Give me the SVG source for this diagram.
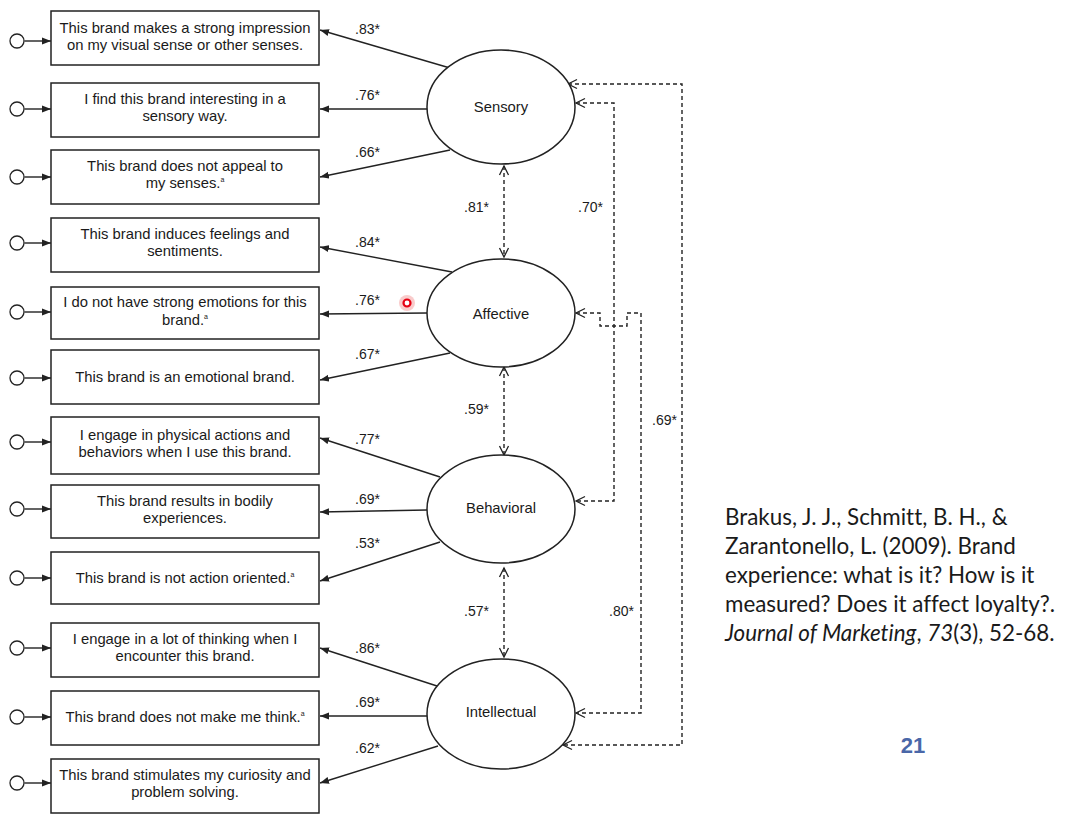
<svg xmlns="http://www.w3.org/2000/svg" width="1071" height="821" viewBox="0 0 1071 821">
<style>
.box{fill:#fff;stroke:#222;stroke-width:1.5}
.t{font-family:"Liberation Sans",Arial,sans-serif;font-size:14.8px;fill:#1a1a1a;text-anchor:middle}
.lb{font-family:"Liberation Sans",Arial,sans-serif;font-size:14px;fill:#1a1a1a}
.ell{fill:#fff;stroke:#222;stroke-width:1.5}
.sl{fill:none;stroke:#222;stroke-width:1.4;marker-end:url(#fa)}
.err{fill:#fff;stroke:#222;stroke-width:1.3}
.dl{fill:none;stroke:#222;stroke-width:1.4;stroke-dasharray:4 3;marker-start:url(#oa);marker-end:url(#oa)}
.cit{font-family:Lato,"Liberation Sans",sans-serif;font-size:22.4px;fill:#1a1a1a;font-variant-ligatures:none}
</style>
<defs>
<marker id="fa" markerUnits="userSpaceOnUse" markerWidth="10" markerHeight="8" refX="9" refY="4" orient="auto"><path d="M0,0.5 L9,4 L0,7.5 z" fill="#222"/></marker>
<marker id="oa" markerUnits="userSpaceOnUse" markerWidth="12" markerHeight="12" refX="10" refY="6" orient="auto-start-reverse"><path d="M1,1.5 L10,6 L1,10.5" fill="none" stroke="#222" stroke-width="1.3"/></marker>
</defs>
<rect width="1071" height="821" fill="#fff"/>

<g id="connectors">
<line class="sl" x1="24.5" y1="41" x2="51" y2="41"/>
<line class="sl" x1="24.5" y1="109" x2="51" y2="109"/>
<line class="sl" x1="24.5" y1="177" x2="51" y2="177"/>
<line class="sl" x1="24.5" y1="243" x2="51" y2="243"/>
<line class="sl" x1="24.5" y1="312" x2="51" y2="312"/>
<line class="sl" x1="24.5" y1="378" x2="51" y2="378"/>
<line class="sl" x1="24.5" y1="442" x2="51" y2="442"/>
<line class="sl" x1="24.5" y1="509" x2="51" y2="509"/>
<line class="sl" x1="24.5" y1="578" x2="51" y2="578"/>
<line class="sl" x1="24.5" y1="648" x2="51" y2="648"/>
<line class="sl" x1="24.5" y1="717" x2="51" y2="717"/>
<line class="sl" x1="24.5" y1="783" x2="51" y2="783"/>
<line class="sl" x1="450" y1="68" x2="320" y2="30"/>
<line class="sl" x1="427" y1="109" x2="320" y2="109"/>
<line class="sl" x1="450" y1="150" x2="320" y2="177"/>
<line class="sl" x1="452" y1="272" x2="320" y2="247"/>
<line class="sl" x1="427" y1="313" x2="320" y2="314"/>
<line class="sl" x1="450" y1="353" x2="320" y2="380"/>
<line class="sl" x1="440" y1="477" x2="320" y2="438"/>
<line class="sl" x1="427" y1="510" x2="320" y2="512"/>
<line class="sl" x1="440" y1="542" x2="320" y2="581"/>
<line class="sl" x1="437" y1="686" x2="320" y2="648"/>
<line class="sl" x1="427" y1="716" x2="320" y2="716"/>
<line class="sl" x1="438" y1="746" x2="320" y2="783"/>
<line class="dl" x1="504" y1="166" x2="504" y2="257"/>
<line class="dl" x1="504" y1="367" x2="504" y2="455"/>
<line class="dl" x1="504" y1="568" x2="504" y2="657"/>
<path class="dl" d="M568,84 H682 V745 H563"/>
<path class="dl" d="M576,103 H614 V501 H576"/>
<path class="dl" d="M576,313 H600 V326 H627 V313 H641 V713 H576"/>
<text class="lb" x="355" y="34">.83*</text>
<text class="lb" x="355" y="100">.76*</text>
<text class="lb" x="355" y="157">.66*</text>
<text class="lb" x="355" y="247">.84*</text>
<text class="lb" x="355" y="305">.76*</text>
<text class="lb" x="355" y="359">.67*</text>
<text class="lb" x="355" y="444">.77*</text>
<text class="lb" x="355" y="504">.69*</text>
<text class="lb" x="355" y="548">.53*</text>
<text class="lb" x="355" y="653">.86*</text>
<text class="lb" x="355" y="707">.69*</text>
<text class="lb" x="355" y="753">.62*</text>
<text class="lb" x="464" y="212">.81*</text>
<text class="lb" x="464" y="414">.59*</text>
<text class="lb" x="464" y="616">.57*</text>
<text class="lb" x="578" y="212">.70*</text>
<text class="lb" x="652" y="425">.69*</text>
<text class="lb" x="609" y="616">.80*</text>
</g>

<g id="errors">
<circle class="err" cx="17" cy="41" r="7"/>
<circle class="err" cx="17" cy="109" r="7"/>
<circle class="err" cx="17" cy="177" r="7"/>
<circle class="err" cx="17" cy="243" r="7"/>
<circle class="err" cx="17" cy="312" r="7"/>
<circle class="err" cx="17" cy="378" r="7"/>
<circle class="err" cx="17" cy="442" r="7"/>
<circle class="err" cx="17" cy="509" r="7"/>
<circle class="err" cx="17" cy="578" r="7"/>
<circle class="err" cx="17" cy="648" r="7"/>
<circle class="err" cx="17" cy="717" r="7"/>
<circle class="err" cx="17" cy="783" r="7"/>
</g>

<g id="item1"><rect class="box" x="51" y="11" width="268" height="54"/><text class="t" x="185" y="32.5">This brand makes a strong impression</text><text class="t" x="185" y="49.5">on my visual sense or other senses.</text></g>
<g id="item2"><rect class="box" x="51" y="83" width="268" height="54"/><text class="t" x="185" y="104">I find this brand interesting in a</text><text class="t" x="185" y="121">sensory way.</text></g>
<g id="item3"><rect class="box" x="51" y="150" width="268" height="54"/><text class="t" x="185" y="171">This brand does not appeal to</text><text class="t" x="185" y="188">my senses.<tspan font-size="7" dy="-6">a</tspan></text></g>
<g id="item4"><rect class="box" x="51" y="218" width="268" height="54"/><text class="t" x="185" y="239">This brand induces feelings and</text><text class="t" x="185" y="256">sentiments.</text></g>
<g id="item5"><rect class="box" x="51" y="287" width="268" height="52"/><text class="t" x="185" y="307">I do not have strong emotions for this</text><text class="t" x="185" y="324.5">brand.<tspan font-size="7" dy="-6">a</tspan></text></g>
<g id="item6"><rect class="box" x="51" y="350" width="268" height="54"/><text class="t" x="185" y="381.5">This brand is an emotional brand.</text></g>
<g id="item7"><rect class="box" x="51" y="417" width="268" height="57"/><text class="t" x="185" y="439.5">I engage in physical actions and</text><text class="t" x="185" y="456.5">behaviors when I use this brand.</text></g>
<g id="item8"><rect class="box" x="51" y="485" width="268" height="53"/><text class="t" x="185" y="505.5">This brand results in bodily</text><text class="t" x="185" y="522.5">experiences.</text></g>
<g id="item9"><rect class="box" x="51" y="552" width="268" height="52"/><text class="t" x="185" y="582.5">This brand is not action oriented.<tspan font-size="7" dy="-6">a</tspan></text></g>
<g id="item10"><rect class="box" x="51" y="623" width="268" height="54"/><text class="t" x="185" y="644">I engage in a lot of thinking when I</text><text class="t" x="185" y="661">encounter this brand.</text></g>
<g id="item11"><rect class="box" x="51" y="691" width="268" height="54"/><text class="t" x="185" y="721.5">This brand does not make me think.<tspan font-size="7" dy="-6">a</tspan></text></g>
<g id="item12"><rect class="box" x="51" y="759" width="268" height="54"/><text class="t" x="185" y="780">This brand stimulates my curiosity and</text><text class="t" x="185" y="797">problem solving.</text></g>

<g id="sensory"><ellipse class="ell" cx="501" cy="107" rx="74" ry="57"/><text class="t" x="501" y="112">Sensory</text></g>
<g id="affective"><ellipse class="ell" cx="501" cy="313" rx="74" ry="54"/><text class="t" x="501" y="319">Affective</text></g>
<g id="behavioral"><ellipse class="ell" cx="501" cy="509" rx="74" ry="54"/><text class="t" x="501" y="513">Behavioral</text></g>
<g id="intellectual"><ellipse class="ell" cx="501" cy="714" rx="74" ry="55"/><text class="t" x="501" y="717">Intellectual</text></g>

<g id="cursor"><circle cx="407" cy="303" r="8" fill="#f7b5b5" opacity="0.7"/><circle cx="407" cy="303" r="3.5" fill="#fff" stroke="#e60012" stroke-width="2.2"/></g>

<g id="citation">
<text class="cit" x="725" y="525">Brakus, J. J., Schmitt, B. H., &amp;</text>
<text class="cit" x="725" y="554">Zarantonello, L. (2009). Brand</text>
<text class="cit" x="725" y="583">experience: what is it? How is it</text>
<text class="cit" x="725" y="612">measured? Does it affect loyalty?.</text>
<text class="cit" x="725" y="641"><tspan font-style="italic">Journal of Marketing</tspan>, <tspan font-style="italic">73</tspan>(3), 52-68.</text>
<text x="913" y="753" font-family="'Liberation Sans',Arial,sans-serif" font-size="22" font-weight="bold" fill="#4a67a8" text-anchor="middle">21</text>
</g>
</svg>
